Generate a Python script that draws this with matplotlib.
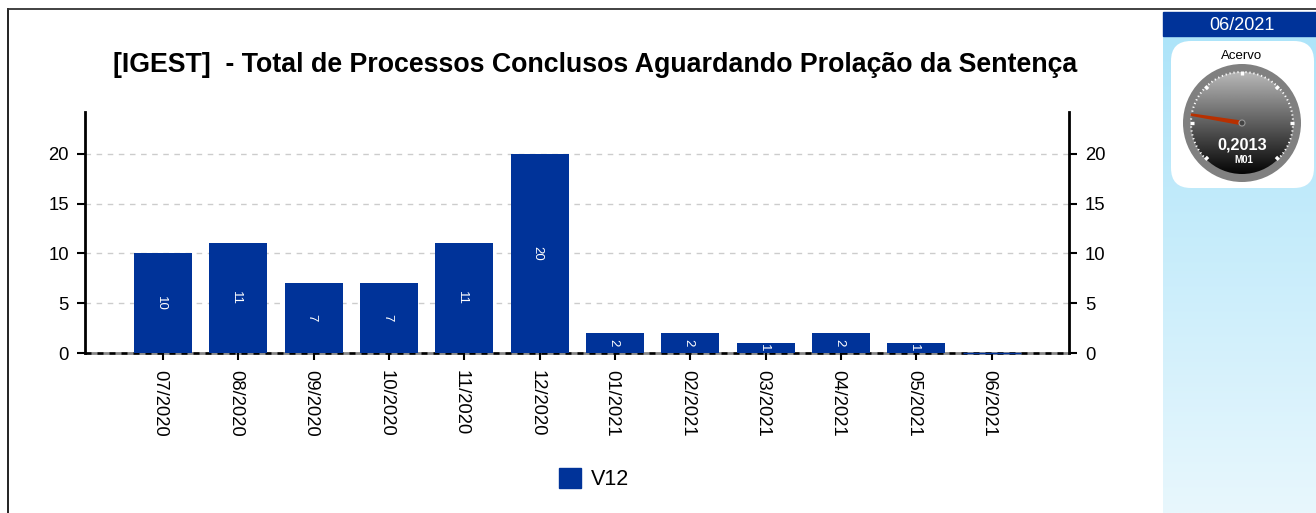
import numpy as np
import matplotlib
matplotlib.use('Agg')
import matplotlib.pyplot as plt
from matplotlib.patches import Circle, FancyBboxPatch, Rectangle, Polygon
from matplotlib.transforms import ScaledTranslation

plt.rcParams['font.family'] = ['Liberation Sans', 'DejaVu Sans']

W, H = 1316, 513

months = ['07/2020', '08/2020', '09/2020', '10/2020', '11/2020', '12/2020',
          '01/2021', '02/2021', '03/2021', '04/2021', '05/2021', '06/2021']
v12 = [10, 11, 7, 7, 11, 20, 2, 2, 1, 2, 1, 0]
y_ticks = [0, 5, 10, 15, 20]
title = '[IGEST]  - Total de Processos Conclusos Aguardando Prolação da Sentença'
gauge_value = 0.2013
gauge_text = '0,2013'
gauge_code = 'M01'
gauge_title = 'Acervo'
panel_date = '06/2021'

BLUE = '#003399'

fig = plt.figure(figsize=(W / 100, H / 100), dpi=100, facecolor='white')

# page overlay in pixel coordinates, for the frame and the side panel
page = fig.add_axes([0, 0, 1, 1], zorder=0)
page.axis('off')

page.plot([8, 8], [H, 9], color='#111111', lw=1.3)
page.plot([8, W], [9, 9], color='#333333', lw=1.3)

top_c = np.array([0xad, 0xe4, 0xf9]) / 255
bot_c = np.array([0xe8, 0xf7, 0xfd]) / 255
grad = np.linspace(0, 1, 256).reshape(-1, 1, 1)
page.imshow(top_c + (bot_c - top_c) * grad, extent=(1163, W, H, 36),
            aspect='auto', zorder=1)

page.add_patch(Rectangle((1163, 12), W - 1163, 24, color=BLUE, zorder=2))
page.text(1242, 25, panel_date, color='white', fontsize=13,
          ha='center', va='center', zorder=3)

page.add_patch(FancyBboxPatch((1171 + 20, 41 + 20), 143 - 40, 147 - 40,
                              boxstyle='round,pad=20,rounding_size=20',
                              fc='white', ec='none', zorder=2))
page.text(1242, 56, gauge_title, fontsize=9.5, ha='center', va='center', zorder=3)

# gauge
cx, cy, r_out = 1242, 123, 59
page.add_patch(Circle((cx, cy), r_out, fc='#808080', ec='none', zorder=3))
face = Circle((cx, cy), 51, fc='none', ec='none', zorder=4)
page.add_patch(face)
g = np.linspace(0.72, 0.02, 256).reshape(-1, 1)
im = page.imshow(g, extent=(cx - 51, cx + 51, cy + 51, cy - 51), cmap='gray',
                 vmin=0, vmax=1, aspect='auto', zorder=4)
im.set_clip_path(face)

# dial marks, scale runs from 225 deg round to -45 deg
start, sweep = 225, 270
for i in range(61):
    a = np.radians(start - sweep * i / 60)
    major = i % 10 == 0
    r0 = 48 if major else 50
    page.plot([cx + r0 * np.cos(a), cx + 52 * np.cos(a)],
              [cy - r0 * np.sin(a), cy - 52 * np.sin(a)],
              color='white', lw=2.4 if major else 0.9, zorder=5,
              solid_capstyle='butt')

a = np.radians(start - sweep * gauge_value)
nx, ny = np.cos(a), -np.sin(a)
px, py = -ny, nx
page.add_patch(Polygon([(cx + 52 * nx + 1.3 * px, cy + 52 * ny + 1.3 * py),
                        (cx + 52 * nx - 1.3 * px, cy + 52 * ny - 1.3 * py),
                        (cx - 2.4 * px, cy - 2.4 * py),
                        (cx + 2.4 * px, cy + 2.4 * py)],
                       closed=True, fc='#b83000', ec='none', zorder=6))
page.add_patch(Circle((cx, cy), 3, fc='#444444', ec='#999999', lw=0.8, zorder=7))
page.text(cx, 145, gauge_text, color='white', fontsize=11.7, fontweight='bold',
          ha='center', va='center', zorder=8)
page.text(cx + 2, 160, gauge_code, color='white', fontsize=7, fontweight='bold',
          ha='center', va='center', zorder=8)

page.text(595, 65, title, fontsize=19.3, fontweight='bold', ha='center', va='center')

page.set_xlim(0, W)
page.set_ylim(H, 0)

# main chart
ax = fig.add_axes([85 / W, 1 - 353 / H, (1069 - 85) / W, (353 - 112) / H], zorder=2)
ax.patch.set_alpha(0)
x = np.arange(len(months))
ax.set_xlim(-1.035, 12.025)
ax.set_ylim(0, 24.2)

bars = ax.bar(x, v12, width=0.77, color=BLUE, zorder=2)
for bar, xi, v in zip(bars, x, v12):
    if v > 0:
        ax.annotate(str(v), (xi, v / 2), xytext=(-1.5, 0), textcoords='offset points',
                    color='white', fontsize=9.5, rotation=-90,
                    ha='center', va='center', zorder=4)
    else:
        # empty month still shows as a hairline
        bar.set_edgecolor(BLUE)
        bar.set_linewidth(1)
        bar.set_zorder(4)
        bar.set_clip_on(False)

for yt in y_ticks[1:]:
    ax.axhline(yt, color='#cccccc', lw=1, ls=(0, (4, 4)), zorder=1)
ax.axhline(0, color='#888888', lw=2, zorder=1, clip_on=False)
ax.axhline(0, color='black', lw=1.8, ls=(0, (2.4, 2.4)), zorder=1, clip_on=False)

ax.set_yticks(y_ticks)
ax.set_xticks(x)
ax.set_xticklabels(months, rotation=-90, fontsize=13.3)
ax.tick_params(axis='x', length=5, width=1.5, pad=7)
ax.tick_params(axis='y', length=5.5, width=1.5, labelsize=13.3, pad=6,
               left=True, right=True, labelleft=True, labelright=True)
shift = ScaledTranslation(-3 / 100, 0, fig.dpi_scale_trans)
for lab in ax.get_xticklabels():
    lab.set_transform(lab.get_transform() + shift)
for side in ['left', 'right']:
    ax.spines[side].set_linewidth(2)
ax.spines['top'].set_visible(False)
ax.spines['bottom'].set_visible(False)

handle = Rectangle((0, 0), 1, 1, color=BLUE, label='V12')
fig.legend(handles=[handle], loc='center', bbox_to_anchor=(594 / W, 1 - 479 / H),
           frameon=False, fontsize=15.5, handlelength=1.02, handleheight=1.1,
           handletextpad=0.46)

fig.savefig('out.png', dpi=100)
